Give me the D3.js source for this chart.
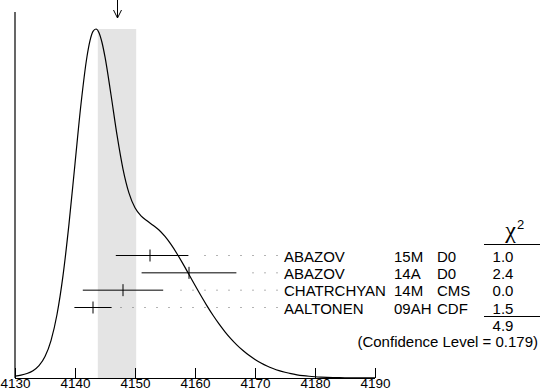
<!DOCTYPE html>
<html>
<head>
<meta charset="utf-8">
<script src="https://cdn.jsdelivr.net/npm/d3@7"></script>
<style>
  html, body { margin: 0; padding: 0; background: #fff; }
  svg { display: block; }
  text { font-family: "Liberation Sans", Arial, Helvetica, sans-serif; fill: #000; }
</style>
</head>
<body>
<svg id="chart" width="540" height="389"></svg>
<script>
// ---- data ----
const names   = ["ABAZOV", "ABAZOV", "CHATRCHYAN", "AALTONEN"];
const docs    = ["15M", "14A", "14M", "09AH"];
const exps    = ["D0", "D0", "CMS", "CDF"];
const values  = [4152.5, 4159.0, 4148.0, 4143.0];
const errLo   = [5.7, 7.9, 6.7, 3.1];
const errHi   = [6.4, 7.9, 6.7, 3.1];
const chi2    = ["1.0", "2.4", "0.0", "1.5"];
const chi2Total = "4.9";
const confLevel = "(Confidence Level = 0.179)";
const avgValue = 4147.0;
const avgError = 3.2;
const tickValues = [4130, 4140, 4150, 4160, 4170, 4180, 4190];

// ideogram curve (arbitrary units)
const ideoX = [4130,4131,4132,4133,4134,4135,4136,4137,4138,4139,4140,4141,4142,4142.5,4143,4143.5,4144,4144.5,4145,4146,4147,4148,4149,4150,
  4151,4152,4153,4154,4155,4156,4157,4158,4159,4160,4161,4162,4163,4164,4165,4166,4167,4168,4169,4170,
  4171,4172,4173,4174,4175,4176,4177,4178,4179,4180,4181,4182,4183,4184,4185,4186,4187,4188,4189,4190];
const ideoY = [0.00069,0.00106,0.00167,0.00271,0.00457,0.00794,0.01385,0.02349,0.03786,0.05699,0.07927,0.10135,0.11892,0.1248,0.12822,0.1291,0.12773,0.1241,0.11876,0.10479,0.08994,0.07731,0.06838,0.06296,
  0.05996,0.05817,0.05651,0.05477,0.05236,0.04941,0.04598,0.04223,0.03829,0.03431,0.03042,0.02669,0.0232,0.02001,0.0171,0.01448,0.01218,0.01016,0.00838,0.00686,
  0.00556,0.00444,0.00352,0.00274,0.00212,0.00159,0.00119,0.00088,0.00064,0.00046,0.00033,0.00023,0.00016,0.00011,0.00007,0.00005,0.00003,0.00002,0.00001,0.00001];

// ---- layout ----
const svg = d3.select("#chart");
const x = d3.scaleLinear().domain([4130, 4190]).range([15, 375]);
const baseY = 378;
const y = d3.scaleLinear().domain([0, d3.max(ideoY)]).range([baseY, 29]);
const rowY = d3.scaleLinear().domain([0, 3]).range([255.5, 307.5]);

// shaded band for the average
svg.append("rect")
  .attr("x", x(avgValue - avgError))
  .attr("y", y(d3.max(ideoY)))
  .attr("width", x(avgValue + avgError) - x(avgValue - avgError))
  .attr("height", baseY - y(d3.max(ideoY)))
  .attr("fill", "#e4e4e4");

// arrow at the average
const ax = Math.round(x(avgValue)) + 0.5;
svg.append("path")
  .attr("d", `M${ax},0 L${ax},18 M${ax-4},10 L${ax},18 L${ax+4},10`)
  .attr("fill", "none").attr("stroke", "#000").attr("stroke-width", 1);

// vertical left line
svg.append("line")
  .attr("x1", x(4130)).attr("x2", x(4130))
  .attr("y1", 12).attr("y2", baseY)
  .attr("stroke", "#000").attr("stroke-width", 1.2);

// x axis: baseline with upward ticks
const axisG = svg.append("g").attr("transform", `translate(0,${baseY})`);
axisG.call(d3.axisBottom(x).tickValues(tickValues).tickSize(-10).tickPadding(0).tickFormat(d3.format("d")));
axisG.select(".domain").attr("d", `M${x(4130)},0.5H${x(4190)}`).attr("stroke", "#000");
axisG.selectAll(".tick line").attr("stroke", "#000");
axisG.selectAll(".tick text")
  .attr("y", 10).attr("dy", 0)
  .style("font-size", "13.5px")
  .style("font-family", "'Liberation Sans', Arial, sans-serif")
  .attr("fill", "#000");

// ideogram curve
const pts = ideoX.map((v, i) => [v, ideoY[i]]);
svg.append("path")
  .datum(pts)
  .attr("d", d3.line().x(d => x(d[0])).y(d => y(d[1])).curve(d3.curveMonotoneX))
  .attr("fill", "none").attr("stroke", "#000").attr("stroke-width", 1.2);

// measurements
const idx = d3.range(values.length);
const meas = svg.append("g");
idx.forEach(i => {
  const yy = rowY(i);
  const lo = x(values[i] - errLo[i]);
  const hi = x(values[i] + errHi[i]);
  meas.append("line").attr("x1", lo).attr("x2", hi).attr("y1", yy).attr("y2", yy)
    .attr("stroke", "#000").attr("stroke-width", 1);
  meas.append("line").attr("x1", x(values[i])).attr("x2", x(values[i]))
    .attr("y1", yy - 6).attr("y2", yy + 6).attr("stroke", "#000").attr("stroke-width", 1);
  // dotted leader
  const dotsX = [];
  for (let dx = 277; dx > hi + 8; dx -= 12) dotsX.push(dx);
  meas.selectAll(null).data(dotsX).enter().append("rect")
    .attr("x", d => d - 0.5).attr("y", yy - 0.5).attr("width", 1).attr("height", 1)
    .attr("fill", "#666");
  // labels
  meas.append("text").attr("x", 284).attr("y", yy + 6).style("font-size", "15px").text(names[i]);
  meas.append("text").attr("x", 394).attr("y", yy + 6).style("font-size", "15px").text(docs[i]);
  meas.append("text").attr("x", 437).attr("y", yy + 6).style("font-size", "15px").text(exps[i]);
  meas.append("text").attr("x", 503).attr("y", yy + 6).attr("text-anchor", "middle").style("font-size", "15px").text(chi2[i]);
});

// chi2 header
svg.append("text").attr("x", 516).attr("y", 238).attr("text-anchor", "end")
  .style("font-family", "'Liberation Serif', 'DejaVu Serif', serif")
  .style("font-size", "24px").text("\u03C7");
svg.append("text").attr("x", 517).attr("y", 229).style("font-size", "13px").text("2");
svg.append("line").attr("x1", 484).attr("x2", 540).attr("y1", 244.5).attr("y2", 244.5)
  .attr("stroke", "#000").attr("stroke-width", 1);
svg.append("line").attr("x1", 484).attr("x2", 540).attr("y1", 316.5).attr("y2", 316.5)
  .attr("stroke", "#000").attr("stroke-width", 1);
svg.append("text").attr("x", 503).attr("y", 331).attr("text-anchor", "middle")
  .style("font-size", "15px").text(chi2Total);
svg.append("text").attr("x", 538).attr("y", 347).attr("text-anchor", "end")
  .style("font-size", "15px").text(confLevel);
</script>
</body>
</html>
